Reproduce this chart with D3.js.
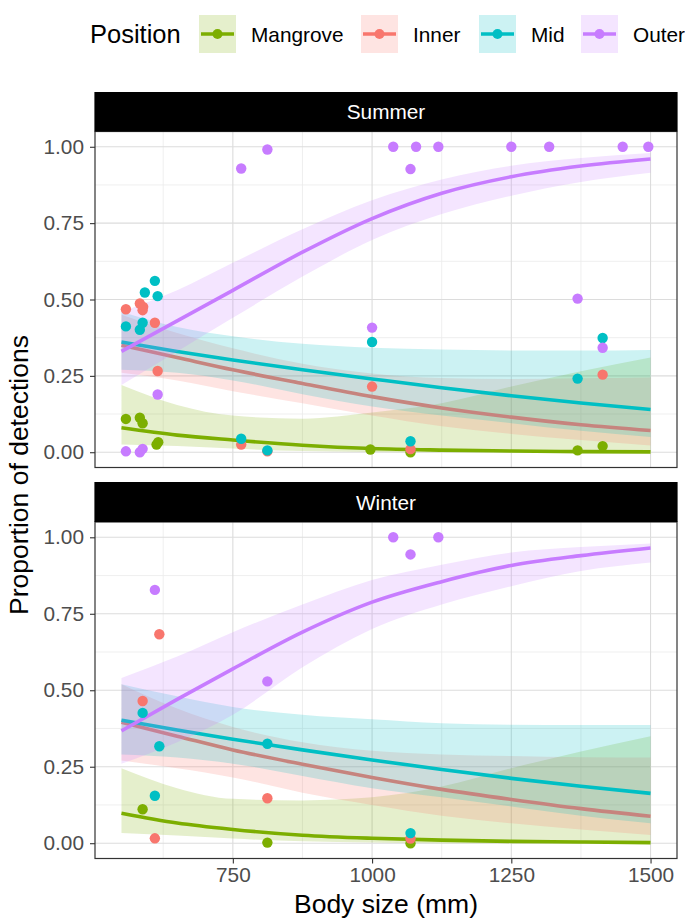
<!DOCTYPE html>
<html>
<head>
<meta charset="utf-8">
<script src="https://cdn.jsdelivr.net/npm/d3@7"></script>
<style>
  html, body { margin: 0; padding: 0; background: #fff; }
  svg { display: block; }
  text { font-family: "Liberation Sans", Arial, Helvetica, sans-serif; }
</style>
</head>
<body>
<svg id="chart" width="685" height="920"></svg>
<script>
// ---------------- DATA ----------------
const positions = ["Mangrove", "Inner", "Mid", "Outer"];
const seasons = ["Summer", "Winter"];
const xTicks = [750, 1000, 1250, 1500];
const xMinorTicks = [625, 875, 1125, 1375];
const yTicks = [0, 0.25, 0.5, 0.75, 1];
const yMinorTicks = [0.125, 0.375, 0.625, 0.875];

// x positions at which the fitted curves were read
const fitX = [550, 650, 750, 875, 1000, 1125, 1250, 1375, 1500];

// Summer fitted curves (fit, lower, upper)
const summerMangroveFit = [0.080, 0.056, 0.040, 0.023, 0.012, 0.007, 0.004, 0.002, 0.001];
const summerMangroveLo  = [0.025, 0.020, 0.012, 0.004, 0.001, 0.000, 0.000, 0.000, 0.000];
const summerMangroveHi  = [0.220, 0.155, 0.120, 0.110, 0.130, 0.160, 0.215, 0.265, 0.310];
const summerInnerFit = [0.350, 0.310, 0.270, 0.225, 0.182, 0.145, 0.115, 0.090, 0.071];
const summerInnerLo  = [0.260, 0.235, 0.200, 0.160, 0.120, 0.085, 0.060, 0.040, 0.022];
const summerInnerHi  = [0.450, 0.390, 0.340, 0.290, 0.258, 0.243, 0.240, 0.242, 0.245];
const summerMidFit = [0.361, 0.330, 0.302, 0.270, 0.240, 0.211, 0.185, 0.161, 0.140];
const summerMidLo  = [0.270, 0.260, 0.235, 0.190, 0.150, 0.120, 0.095, 0.070, 0.050];
const summerMidHi  = [0.460, 0.410, 0.380, 0.355, 0.342, 0.336, 0.333, 0.333, 0.335];
const summerOuterFit = [0.330, 0.430, 0.530, 0.655, 0.765, 0.848, 0.902, 0.937, 0.960];
const summerOuterLo  = [0.220, 0.330, 0.440, 0.575, 0.695, 0.780, 0.840, 0.885, 0.915];
const summerOuterHi  = [0.460, 0.530, 0.620, 0.730, 0.825, 0.893, 0.938, 0.963, 0.980];

// Winter fitted curves (fit, lower, upper)
const winterMangroveFit = [0.098, 0.066, 0.045, 0.026, 0.016, 0.010, 0.006, 0.004, 0.002];
const winterMangroveLo  = [0.033, 0.025, 0.015, 0.006, 0.002, 0.000, 0.000, 0.000, 0.000];
const winterMangroveHi  = [0.245, 0.180, 0.145, 0.140, 0.150, 0.185, 0.245, 0.300, 0.350];
const winterInnerFit = [0.395, 0.350, 0.305, 0.258, 0.215, 0.176, 0.143, 0.113, 0.088];
const winterInnerLo  = [0.270, 0.245, 0.215, 0.165, 0.125, 0.090, 0.065, 0.045, 0.027];
const winterInnerHi  = [0.520, 0.440, 0.380, 0.330, 0.302, 0.290, 0.285, 0.281, 0.280];
const winterMidFit = [0.402, 0.370, 0.340, 0.305, 0.272, 0.241, 0.212, 0.186, 0.163];
const winterMidLo  = [0.290, 0.280, 0.260, 0.220, 0.180, 0.150, 0.120, 0.090, 0.065];
const winterMidHi  = [0.520, 0.480, 0.445, 0.420, 0.405, 0.392, 0.387, 0.386, 0.386];
const winterOuterFit = [0.367, 0.470, 0.570, 0.690, 0.788, 0.855, 0.908, 0.940, 0.965];
const winterOuterLo  = [0.260, 0.330, 0.420, 0.575, 0.700, 0.780, 0.840, 0.890, 0.918];
const winterOuterHi  = [0.540, 0.610, 0.690, 0.780, 0.860, 0.910, 0.950, 0.968, 0.980];

// Observed proportions [body size, proportion]
const summerMangrovePts = [[558,0.109],[583,0.113],[588,0.095],[613,0.025],[616,0.033],[997,0.009],[1069,0.000],[1369,0.006],[1414,0.020]];
const summerInnerPts = [[558,0.468],[583,0.487],[589,0.476],[588,0.465],[610,0.424],[615,0.266],[765,0.025],[812,0.003],[1000,0.215],[1069,0.010],[1414,0.254]];
const summerMidPts = [[610,0.561],[592,0.523],[615,0.511],[558,0.412],[588,0.424],[583,0.401],[765,0.044],[812,0.006],[1000,0.361],[1069,0.036],[1369,0.241],[1414,0.374]];
const summerOuterPts = [[615,0.189],[558,0.003],[583,0.000],[588,0.011],[765,0.929],[812,0.991],[1000,0.408],[1038,1.000],[1079,1.000],[1069,0.927],[1119,1.000],[1250,1.000],[1318,1.000],[1450,1.000],[1496,1.000],[1369,0.503],[1414,0.342]];

const winterMangrovePts = [[588,0.111],[812,0.002],[1069,0.000]];
const winterInnerPts = [[618,0.683],[588,0.465],[812,0.147],[610,0.016],[1069,0.015]];
const winterMidPts = [[588,0.426],[618,0.317],[812,0.325],[610,0.155],[1069,0.033]];
const winterOuterPts = [[610,0.828],[812,0.529],[1038,1.000],[1069,0.944],[1119,1.000]];

// ---------------- STYLE ----------------
const colors = ["#7CAE00", "#F8766D", "#00BFC4", "#C77CFF"];

const panelData = {
  Summer: {
    fit: [summerMangroveFit, summerInnerFit, summerMidFit, summerOuterFit],
    lo:  [summerMangroveLo, summerInnerLo, summerMidLo, summerOuterLo],
    hi:  [summerMangroveHi, summerInnerHi, summerMidHi, summerOuterHi],
    pts: [summerMangrovePts, summerInnerPts, summerMidPts, summerOuterPts]
  },
  Winter: {
    fit: [winterMangroveFit, winterInnerFit, winterMidFit, winterOuterFit],
    lo:  [winterMangroveLo, winterInnerLo, winterMidLo, winterOuterLo],
    hi:  [winterMangroveHi, winterInnerHi, winterMidHi, winterOuterHi],
    pts: [winterMangrovePts, winterInnerPts, winterMidPts, winterOuterPts]
  }
};

// ---------------- LAYOUT ----------------
const svg = d3.select("#chart");
const plotLeft = 95, plotRight = 677;
const panels = [
  { season: "Summer", stripTop: 92, top: 131.5, bottom: 467.5 },
  { season: "Winter", stripTop: 482, top: 522, bottom: 858.5 }
];

const x = d3.scaleLinear().domain([502.5, 1547.5]).range([plotLeft, plotRight]);

panels.forEach((p, pi) => {
  const y = d3.scaleLinear().domain([-0.05, 1.05]).range([p.bottom, p.top]);
  const g = svg.append("g");
  const d = panelData[p.season];

  const clipId = "clip" + pi;
  svg.append("clipPath").attr("id", clipId)
    .append("rect").attr("x", plotLeft).attr("y", p.top)
    .attr("width", plotRight - plotLeft).attr("height", p.bottom - p.top);

  g.append("rect").attr("x", plotLeft).attr("y", p.top)
    .attr("width", plotRight - plotLeft).attr("height", p.bottom - p.top)
    .attr("fill", "#fff");

  // grid
  const grid = g.append("g");
  xMinorTicks.forEach(v => grid.append("line")
    .attr("x1", x(v)).attr("x2", x(v)).attr("y1", p.top).attr("y2", p.bottom)
    .attr("stroke", "#ebebeb").attr("stroke-width", 0.8));
  yMinorTicks.forEach(v => grid.append("line")
    .attr("x1", plotLeft).attr("x2", plotRight).attr("y1", y(v)).attr("y2", y(v))
    .attr("stroke", "#ebebeb").attr("stroke-width", 0.8));
  xTicks.forEach(v => grid.append("line")
    .attr("x1", x(v)).attr("x2", x(v)).attr("y1", p.top).attr("y2", p.bottom)
    .attr("stroke", "#dcdcdc").attr("stroke-width", 1.1));
  yTicks.forEach(v => grid.append("line")
    .attr("x1", plotLeft).attr("x2", plotRight).attr("y1", y(v)).attr("y2", y(v))
    .attr("stroke", "#dcdcdc").attr("stroke-width", 1.1));

  const marks = g.append("g").attr("clip-path", `url(#${clipId})`);

  // smooths: ribbon then line, in group order
  positions.forEach((pos, i) => {
    const rows = fitX.map((xv, k) => ({ x: xv, f: d.fit[i][k], lo: d.lo[i][k], hi: d.hi[i][k] }));
    const area = d3.area().x(r => x(r.x)).y0(r => y(r.lo)).y1(r => y(r.hi)).curve(d3.curveMonotoneX);
    const line = d3.line().x(r => x(r.x)).y(r => y(r.f)).curve(d3.curveMonotoneX);
    marks.append("path").attr("d", area(rows)).attr("fill", colors[i]).attr("fill-opacity", 0.2);
    marks.append("path").attr("d", line(rows)).attr("fill", "none")
      .attr("stroke", colors[i]).attr("stroke-width", 3.6);
  });

  // points
  positions.forEach((pos, i) => {
    marks.selectAll(null).data(d.pts[i]).enter().append("circle")
      .attr("cx", r => x(r[0])).attr("cy", r => y(r[1])).attr("r", 5.2)
      .attr("fill", colors[i]);
  });

  // border
  g.append("rect").attr("x", plotLeft).attr("y", p.top)
    .attr("width", plotRight - plotLeft).attr("height", p.bottom - p.top)
    .attr("fill", "none").attr("stroke", "#333").attr("stroke-width", 1.2);

  // strip
  g.append("rect").attr("x", plotLeft - 0.6).attr("y", p.stripTop)
    .attr("width", plotRight - plotLeft + 1.2).attr("height", p.top - p.stripTop)
    .attr("fill", "#000");
  g.append("text").attr("x", (plotLeft + plotRight) / 2).attr("y", (p.stripTop + p.top) / 2 + 7.5)
    .attr("text-anchor", "middle").attr("fill", "#fff").attr("font-size", "20.8px")
    .text(p.season);

  // y axis
  const ya = g.append("g").attr("transform", `translate(${plotLeft},0)`)
    .call(d3.axisLeft(y).tickValues(yTicks).tickFormat(d3.format(".2f")).tickSize(5).tickPadding(6));
  ya.select(".domain").remove();
  ya.selectAll(".tick line").attr("stroke", "#333").attr("stroke-width", 1.1);
  ya.selectAll(".tick text").attr("fill", "#4d4d4d").attr("font-size", "20.8px")
    .attr("font-family", "Liberation Sans, Arial, sans-serif");

  if (pi === panels.length - 1) {
    const xa = g.append("g").attr("transform", `translate(0,${p.bottom})`)
      .call(d3.axisBottom(x).tickValues(xTicks).tickFormat(d3.format("d")).tickSize(5).tickPadding(4));
    xa.select(".domain").remove();
    xa.selectAll(".tick line").attr("stroke", "#333").attr("stroke-width", 1.1);
    xa.selectAll(".tick text").attr("fill", "#4d4d4d").attr("font-size", "20.8px")
      .attr("font-family", "Liberation Sans, Arial, sans-serif");
  }
});

// axis titles
svg.append("text").attr("x", (plotLeft + plotRight) / 2).attr("y", 913)
  .attr("text-anchor", "middle").attr("font-size", "26.5px").attr("fill", "#000")
  .text("Body size (mm)");
svg.append("text").attr("transform", "translate(28,475) rotate(-90)")
  .attr("text-anchor", "middle").attr("font-size", "26.5px").attr("fill", "#000")
  .text("Proportion of detections");

// legend
const legend = svg.append("g");
legend.append("text").attr("x", 90).attr("y", 43).attr("font-size", "25.5px").attr("fill", "#000")
  .text("Position");
const keyX = [199, 361, 479, 581];
const keyW = 37, keyTop = 15, keyH = 38;
positions.forEach((pos, i) => {
  const kg = legend.append("g").attr("transform", `translate(${keyX[i]},${keyTop})`);
  kg.append("rect").attr("width", keyW).attr("height", keyH).attr("fill", colors[i]).attr("fill-opacity", 0.2);
  kg.append("line").attr("x1", 2).attr("x2", keyW - 2).attr("y1", keyH / 2).attr("y2", keyH / 2)
    .attr("stroke", colors[i]).attr("stroke-width", 3.6);
  kg.append("circle").attr("cx", keyW / 2).attr("cy", keyH / 2).attr("r", 5).attr("fill", colors[i]);
  legend.append("text").attr("x", keyX[i] + keyW + 15).attr("y", keyTop + keyH / 2 + 7.5)
    .attr("font-size", "20.8px").attr("fill", "#000").text(pos);
});
</script>
</body>
</html>
